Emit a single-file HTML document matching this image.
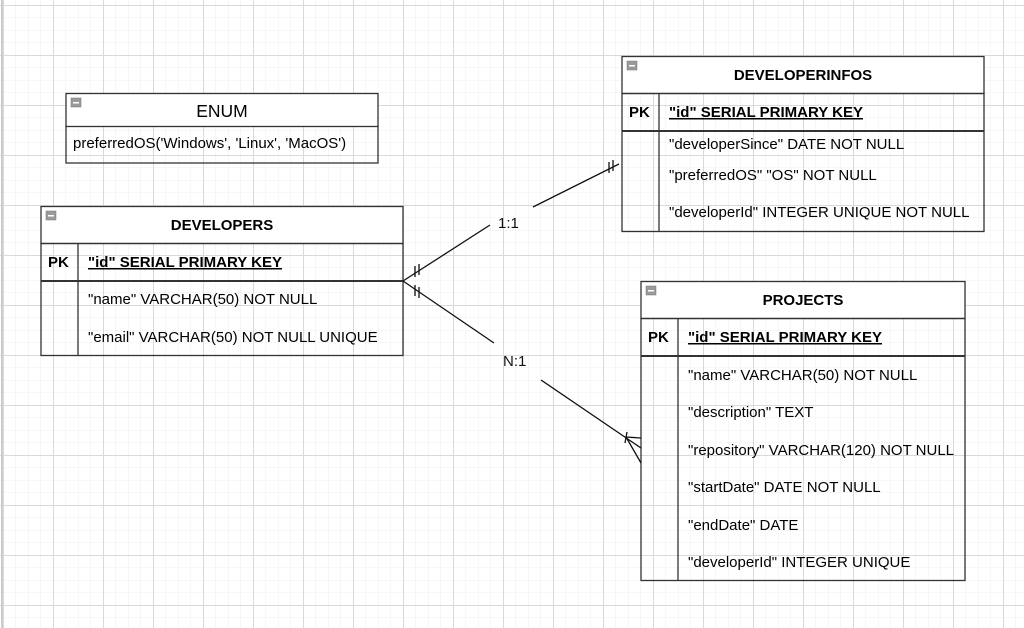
<!DOCTYPE html>
<html><head><meta charset="utf-8"><style>
html,body{margin:0;padding:0;background:#fff;}
svg{display:block;font-family:"Liberation Sans",Arial,sans-serif;}
</style></head><body>
<svg width="1024" height="628" viewBox="0 0 1024 628" xmlns="http://www.w3.org/2000/svg">
<defs>
<pattern id="minor" width="12.5" height="12.5" patternUnits="userSpaceOnUse" x="3" y="5">
<path d="M0 0H12.5M0 0V12.5" stroke="#efefef" stroke-width="1" fill="none"/>
</pattern>
<pattern id="major" width="50" height="50" patternUnits="userSpaceOnUse" x="3" y="5">
<path d="M0 0.5H50M0.5 0V50" stroke="#d9d9d9" stroke-width="1" fill="none"/>
</pattern>
<g id="ico"><rect width="10" height="9" fill="#9a9a9a" stroke="#777" stroke-width="0.5"/><rect x="2" y="4" width="6" height="1.5" fill="#fff"/></g>
</defs>
<rect width="1024" height="628" fill="url(#minor)"/>
<rect width="1024" height="628" fill="url(#major)"/>
<line x1="2" y1="0" x2="2" y2="628" stroke="#ccc" stroke-width="2"/>

<g stroke="#333" fill="none" stroke-width="1.3">
<rect x="66" y="126" width="312" height="37" fill="none"/>
<rect x="66" y="93.5" width="312" height="33" fill="#fff"/>
<rect x="41" y="206.5" width="362" height="37" fill="#fff"/>
<rect x="41" y="243.5" width="362" height="112"/>
<line x1="78" y1="243.5" x2="78" y2="355.5"/>
<line x1="41" y1="281" x2="403" y2="281" stroke-width="2"/>
<rect x="622" y="56.5" width="362" height="37" fill="#fff"/>
<rect x="622" y="93.5" width="362" height="138"/>
<line x1="659" y1="93.5" x2="659" y2="231.5"/>
<line x1="622" y1="131" x2="984" y2="131" stroke-width="2"/>
<rect x="641" y="281.5" width="324" height="37" fill="#fff"/>
<rect x="641" y="318.5" width="324" height="262"/>
<line x1="678" y1="318.5" x2="678" y2="580.5"/>
<line x1="641" y1="356" x2="965" y2="356" stroke-width="2"/>
</g>
<use href="#ico" x="71" y="98"/>
<use href="#ico" x="46" y="211"/>
<use href="#ico" x="627" y="61"/>
<use href="#ico" x="646" y="286"/>

<g stroke="#111" stroke-width="1.3" fill="none">
<path d="M403 281 L490 225"/>
<path d="M533 207 L619 164"/>
<path d="M403 281 L494 343"/>
<path d="M541 380 L641 448"/>
<path d="M415 266 L415 277 M419 264 L419 275"/>
<path d="M415 285 L415 296 M419 287 L419 298"/>
<path d="M609 162 L609 173 M613 160 L613 171"/>
<path d="M626 437 L641 438 M626 437 L641 463 M627 432 L625 443"/>
</g>
<g font-size="15" fill="#111">
<text x="498" y="228">1:1</text>
<text x="503" y="366">N:1</text>
</g>

<g font-size="15" fill="#000">
<text x="222" y="117" text-anchor="middle" font-size="17.5">ENUM</text>
<text x="73" y="148">preferredOS('Windows', 'Linux', 'MacOS')</text>

<text x="222" y="230" text-anchor="middle" font-weight="bold">DEVELOPERS</text>
<text x="48" y="267" font-weight="bold">PK</text>
<text x="88" y="267" font-weight="bold" text-decoration="underline">"id" SERIAL PRIMARY KEY</text>
<text x="88" y="304">"name" VARCHAR(50) NOT NULL</text>
<text x="88" y="342">"email" VARCHAR(50) NOT NULL UNIQUE</text>

<text x="803" y="80" text-anchor="middle" font-weight="bold">DEVELOPERINFOS</text>
<text x="629" y="117" font-weight="bold">PK</text>
<text x="669" y="117" font-weight="bold" text-decoration="underline">"id" SERIAL PRIMARY KEY</text>
<text x="669" y="149">"developerSince" DATE NOT NULL</text>
<text x="669" y="180">"preferredOS" "OS" NOT NULL</text>
<text x="669" y="217">"developerId" INTEGER UNIQUE NOT NULL</text>

<text x="803" y="305" text-anchor="middle" font-weight="bold">PROJECTS</text>
<text x="648" y="342" font-weight="bold">PK</text>
<text x="688" y="342" font-weight="bold" text-decoration="underline">"id" SERIAL PRIMARY KEY</text>
<text x="688" y="380">"name" VARCHAR(50) NOT NULL</text>
<text x="688" y="417">"description" TEXT</text>
<text x="688" y="455">"repository" VARCHAR(120) NOT NULL</text>
<text x="688" y="492">"startDate" DATE NOT NULL</text>
<text x="688" y="530">"endDate" DATE</text>
<text x="688" y="567">"developerId" INTEGER UNIQUE</text>
</g>
</svg>
</body></html>
